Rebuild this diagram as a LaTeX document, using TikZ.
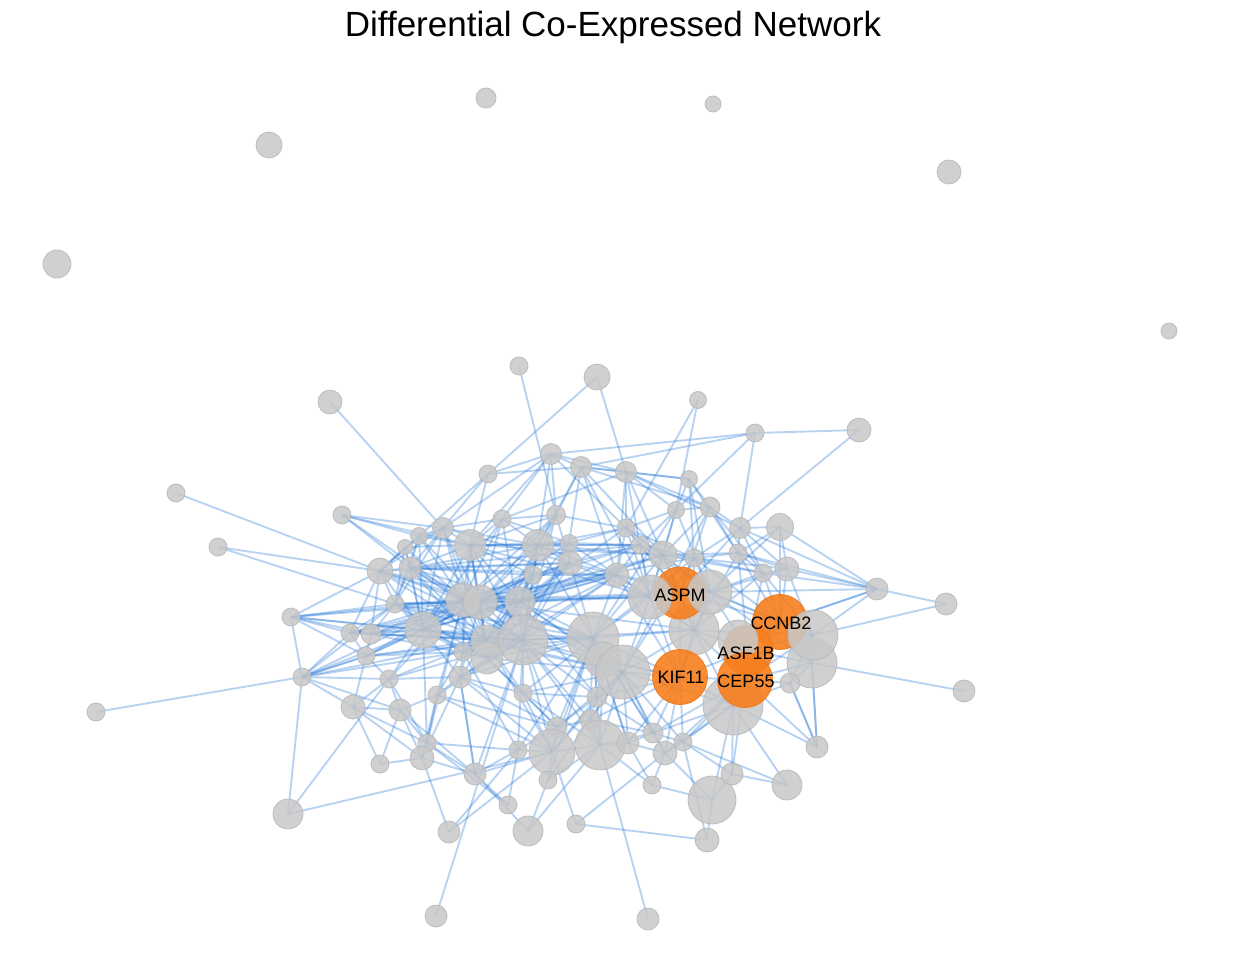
\documentclass[tikz,border=0pt]{standalone}
\usepackage{fontspec}
\setmainfont{Liberation Sans}
\usetikzlibrary{backgrounds}
\definecolor{genegray}{RGB}{200,200,200}
\definecolor{geneline}{RGB}{185,185,185}
\definecolor{huborange}{RGB}{247,127,30}
\definecolor{hubline}{RGB}{240,120,25}
\definecolor{linkblue}{RGB}{40,120,215}
\tikzstyle{gene} = [circle, inner sep=0pt, fill=genegray, draw=geneline, line width=0.8pt,
                    fill opacity=0.86, draw opacity=0.9]
\tikzstyle{hub}  = [circle, inner sep=0pt, fill=huborange, draw=hubline, line width=0.8pt,
                    fill opacity=0.9, minimum size=55pt]
\tikzstyle{link} = [draw=linkblue, draw opacity=0.33, line width=1.9pt]
\tikzstyle{tag}  = [font=\fontsize{18}{20}\selectfont, inner sep=0pt]

\begin{document}
\begin{tikzpicture}[x=1pt, y=-1pt]
  \useasboundingbox (0,0) rectangle (1234,960);

  % Title
  \node[anchor=base, font=\fontsize{35}{40}\selectfont] (title) at (613,37) {Differential Co-Expressed Network};

  % Isolated genes
  \foreach \n/\x/\y/\sz in {i1/486/98/20, i2/713/104/16, i3/269/145/26, i4/949/172/24,
                            i5/57/264/28, i6/1169/331/16}
    \node[gene, minimum size=\sz pt] (\n) at (\x,\y) {};

  % Upper periphery
  \foreach \n/\x/\y/\sz in {a1/519/366/18, a2/597/377/26, a3/698/400/17, a4/755/433/18,
                            a5/859/430/24, a6/330/402/24, a7/176/493/18, a8/218/547/18,
                            a9/342/515/18}
    \node[gene, minimum size=\sz pt] (\n) at (\x,\y) {};

  % Upper band
  \foreach \n/\x/\y/\sz in {b1/488/474/18, b2/551/454/21, b3/581/467/21, b4/626/472/21,
                            b5/689/479/17, b6/710/507/20, b7/740/528/21, b8/780/527/27,
                            b9/676/510/17, b10/556/515/19, b11/502/519/18, b12/443/528/21,
                            b13/419/536/17, b14/405/547/15, b15/470/545/31, b16/538/545/31,
                            b17/569/543/17, b18/626/528/18, b19/640/545/18, b20/663/555/28,
                            b21/694/558/18, b22/738/553/18}
    \node[gene, minimum size=\sz pt] (\n) at (\x,\y) {};

  % Core
  \foreach \n/\x/\y/\sz in {c1/380/571/26, c2/410/568/22, c3/570/563/24, c4/533/575/18,
                            c5/617/575/24, c6/763/573/18, c7/787/569/24, c8/877/589/22,
                            c9/946/604/22, c10/291/617/18, c11/395/604/18, c12/463/600/34,
                            c13/480/602/34, c14/520/602/30, c17/350/633/18, c18/371/634/20,
                            c19/423/630/36, c20/486/640/30, c21/523/640/50, c22/593/638/52,
                            c23/694/630/50, c25/366/656/18, c26/463/652/18, c27/487/658/32,
                            c28/603/660/36, c29/623/672/54, c30/812/663/50, c31/302/677/18,
                            c32/389/679/18, c33/460/677/22, c34/437/695/18, c35/523/693/18,
                            c36/597/697/20, c37/353/707/24, c38/400/710/22, c39/790/683/20,
                            c40/964/691/22, c41/733/705/60, c42/96/712/18}
    \node[gene, minimum size=\sz pt] (\n) at (\x,\y) {};

  % Lower band
  \foreach \n/\x/\y/\sz in {d1/590/720/20, d2/557/727/20, d3/653/733/20, d4/683/742/18,
                            d5/427/743/18, d6/422/758/24, d7/518/750/18, d8/552/752/46,
                            d9/600/745/50, d10/628/743/22, d11/665/753/24, d12/380/764/18,
                            d13/475/774/22, d14/548/780/18, d15/508/805/18, d16/449/832/22,
                            d17/528/831/30, d18/576/824/18, d19/652/785/18, d20/712/800/48,
                            d21/707/840/24, d22/732/774/22, d23/787/785/30, d24/817/747/22,
                            d25/288/814/30, d26/436/916/22, d27/648/919/22}
    \node[gene, minimum size=\sz pt] (\n) at (\x,\y) {};

  % Hub genes (ASPM, CCNB2, ASF1B sit under some grey genes)
  \node[hub, minimum size=52pt] (aspm)  at (680,593) {};
  \node[hub]                    (ccnb2) at (780,622) {};
  \node[hub, minimum size=50pt] (asf1b) at (748,650) {};
  \foreach \n/\x/\y/\sz in {c15/650/597/44, c16/710/592/44, c24/813/635/50, c43/738/640/40}
    \node[gene, minimum size=\sz pt] (\n) at (\x,\y) {};
  \node[hub] (kif11) at (680,677) {};
  \node[hub] (cep55) at (745,680) {};

  % Gene names
  \node[tag] (taspm)  at (680,595) {ASPM};
  \node[tag] (tccnb2) at (781,623) {CCNB2};
  \node[tag] (tasf1b) at (746,653) {ASF1B};
  \node[tag] (tkif11) at (681,677) {KIF11};
  \node[tag] (tcep55) at (746,681) {CEP55};

  % Co-expression links
  \begin{scope}[on background layer]
    % periphery
    \foreach \a/\b in {a6/b12, a7/c1, a8/c1, a8/c11, a9/b12, a9/b15, a9/b13, a9/c2, a9/c12,
                       a1/b10, a2/b1, a2/b4, a3/b18, a3/b9, a4/b3, a4/b2, a4/b9, a4/b7, a4/a5,
                       a5/b7, c42/c31, c9/c8, c9/c24, d26/c21, d27/d9,
                       d25/c32, d25/d8, d12/c37, d16/d6, d16/d8, d16/d7, d17/d13, d17/d9,
                       d17/d14, d18/d8, d18/d21, d18/d11, d15/d5, d15/d13, d19/d9, d19/d20,
                       d21/d20, d21/d4, d23/d22, d23/d4, d23/c41, d24/c41, d24/cep55, d24/c39,
                       d24/c30, d22/c41, d22/d4, d22/cep55}
      \draw[link] (\a.center) -- (\b.center);
    % upper band
    \foreach \a/\b in {b1/b12, b1/b3, b1/b15, b1/c1, b1/b2, b2/b12, b2/b15, b2/b11, b2/b10,
                       b2/b3, b2/b18, b2/b4, b2/c4, b3/b4, b3/b16, b3/b10, b3/b5, b3/b6,
                       b3/c5, b3/b17, b4/b5, b4/b6, b4/b9, b4/b18, b4/b20, b4/c5, b4/b7,
                       b4/b11, b5/b6, b5/b9, b5/b21, b5/c16, b5/b22, b6/b7, b6/b9, b6/b22,
                       b6/c6, b6/b20, b6/aspm, b7/b8, b7/c6, b7/b22, b7/c8, b7/b21, b7/c7,
                       b8/b22, b8/c7, b8/c8, b8/ccnb2, b8/c16, b9/b20, b9/b18, b9/c15,
                       b9/b19, b10/b16, b10/b15, b10/c3, b10/b11, b10/c14, b10/b18,
                       b11/b12, b11/b15, b11/b16, b11/c12, b11/b17, b7/aspm, b9/c16,
                       b18/c16, b4/c15, b3/c15, b3/b20}
      \draw[link] (\a.center) -- (\b.center);
    \foreach \a/\b in {b12/b13, b12/b14, b12/b15, b12/c1, b12/c2, b12/c12, b12/c19, b12/b16,
                       b12/c13, b13/c1, b13/c2, b13/b15, b13/c13, b13/c11, b14/c1, b14/c2,
                       b14/b15, b14/c19, b15/b16, b15/c2, b15/c12, b15/c13, b15/c14, b15/c4,
                       b15/c21, b15/b17, b15/c19, b15/b19, b15/b20, b16/b17, b16/c3, b16/c4,
                       b16/c14, b16/b18, b16/b19, b16/c21, b16/c13, b16/b20, b16/c5,
                       b17/c3, b17/b18, b17/b19, b17/c5, b17/c14, b18/b19, b18/b20, b18/c5,
                       b18/c15, b18/b21, b19/b20, b19/c15, b19/c5, b19/b21, b19/c16,
                       b20/b21, b20/c16, b20/aspm, b20/c15, b20/c23, b20/b22, b20/c6,
                       b21/b22, b21/c6, b21/c16, b21/c7, b21/aspm, b22/c6, b22/c7, b22/c8,
                       b22/ccnb2}
      \draw[link] (\a.center) -- (\b.center);
    % core
    \foreach \a/\b in {c1/c2, c1/c10, c1/c11, c1/c19, c1/c12, c1/c17, c1/c18, c1/c13,
                       c2/c11, c2/c12, c2/c13, c2/c19, c2/c14, c2/c3, c2/c4, c2/b16,
                       c3/c4, c3/c5, c3/c14, c3/c21, c3/c22, c3/c15, c3/c13, c3/b19,
                       c4/c12, c4/c13, c4/c14, c4/c21, c4/c5, c4/c20, c5/c15, c5/c22,
                       c5/c14, c5/c23, c5/aspm, c5/c16, c5/c21, c6/c7, c6/c16, c6/ccnb2,
                       c6/c8, c6/c24, c7/c8, c7/ccnb2, c7/c24, c7/c16, c8/ccnb2, c8/c24,
                       c8/c16, c10/c11, c10/c17, c10/c18, c10/c25, c10/c19, c10/c12,
                       c10/c31, c11/c12, c11/c13, c11/c19, c11/c17, c11/c18, c11/c14,
                       c11/c21, c12/c13, c12/c14, c12/c19, c12/c20, c12/c21, c12/c26,
                       c12/c27, c12/c3, c12/c22, c13/c14, c13/c20, c13/c21, c13/c27,
                       c13/c22, c13/c5, c13/c19, c14/c21, c14/c22, c14/c20, c14/c15,
                       c14/c27, c14/c29}
      \draw[link] (\a.center) -- (\b.center);
    \foreach \a/\b in {c15/c16, c15/c22, c15/c23, c15/c29, c15/aspm, c15/kif11, c16/c23,
                       c16/c24, c16/ccnb2, c16/asf1b, c17/c18, c17/c19, c17/c25, c17/c31,
                       c17/c12, c18/c19, c18/c25, c18/c20, c18/c12, c18/c21, c19/c20,
                       c19/c21, c19/c25, c19/c26, c19/c32, c19/c27, c19/c33, c19/c22,
                       c20/c21, c20/c26, c20/c27, c20/c22, c20/c33, c21/c22, c21/c27,
                       c21/c29, c21/c28, c21/c35, c21/c33, c22/c23, c22/c28, c22/c29,
                       c22/kif11, c22/c36, c22/d1, c23/aspm, c23/kif11, c23/c29, c23/asf1b,
                       c23/c24, c23/cep55, c24/c30, c24/asf1b, c24/c39, c25/c31, c25/c32,
                       c25/c26, c25/c37, c26/c27, c26/c33, c26/c34, c27/c33, c27/c35,
                       c27/c29, c28/c29, c28/c36, c29/kif11, c29/c36, c29/d1, c29/d3,
                       c29/c41, c30/c39, c30/cep55, c30/c40, c30/d24}
      \draw[link] (\a.center) -- (\b.center);
    \foreach \a/\b in {c31/c37, c31/c32, c31/c19, c31/c38, c31/d25, c31/c12, c31/c11,
                       c32/c38, c32/c33, c32/c37, c33/c34, c33/c35, c33/d2, c34/c38,
                       c34/d5, c34/d6, c35/c36, c35/d2, c35/d8, c36/d1, c36/d3, c37/c38,
                       c37/d5, c37/d6, c38/d5, c38/d6, c38/d13, d12/c38, c39/c41, c39/d24,
                       c41/cep55, c41/d4, c41/d20, c41/d3, c19/c5, c12/c15, c13/b20,
                       c2/b19, c1/c3, c11/c22, c17/c14, c25/c21, c19/c29, c26/c22,
                       c20/c29, c32/c21, c33/c22, b15/c15, b12/c3, c12/aspm, c32/d5,
                       c33/d13, c34/d8}
      \draw[link] (\a.center) -- (\b.center);
    % dense left cluster
    \foreach \a/\b in {b13/c12, b13/c19, b14/c12, b14/c11, b12/c11, b12/c20, b15/c20, b15/c27,
                       b15/c26, b16/c12, b16/c20, b16/c27, b16/c22, b11/c13, b11/c21, b11/c19,
                       b10/c21, b10/c13, b10/c12, b17/c21, b17/c13, c2/c20, c2/c21, c2/c27,
                       c1/c14, c1/c21, c1/c20, c11/c20, c11/c27, c11/c26, c17/c13, c17/c20,
                       c18/c13, c18/c14, c18/c27, c25/c12, c25/c13, c25/c20, c19/c14, c26/c21,
                       c26/c14, c27/c22, c33/c21, c33/c13, c34/c21, c34/c12, c32/c12, c32/c20,
                       c35/c22, c35/c20, c36/c21, c36/c14, c28/c14, c28/c13, c3/c20, c3/c27,
                       c4/c19, c4/c27, c5/c12, c5/c20, c5/c27, b19/c12, b19/c14, b18/c14,
                       b20/c14, b20/c22, b21/c22, b21/c29, b9/c22, b6/c29, c10/c13, c10/c21,
                       c31/c20, c31/c25, c31/c26, c19/b20, c12/b21, c2/c5, c11/c15, c13/c23,
                       c21/c23, c14/aspm}
      \draw[link] (\a.center) -- (\b.center);
    % lower band
    \foreach \a/\b in {d1/d2, d1/d9, d1/d3, d2/d8, d2/d7, d3/d4, d3/d10, d3/d11, d3/kif11,
                       d4/d11, d5/d6, d5/d13, d5/d7, d6/d13, d6/d12, d7/d8, d7/d13, d7/d15,
                       d8/d9, d8/d14, d9/d10, d9/d14, d10/d11, d10/d19, d11/d20, d20/d22,
                       d3/cep55, d2/c21, d2/c22, d7/c21, d8/c21, d8/c22, d9/c22, d9/c29,
                       d1/c21, d13/c33, d13/c21, d6/c33, d5/c19, d5/c12, d14/c22, d10/c29,
                       d11/c29, d3/c22, d8/c29, d9/c21, d2/c29, d7/c22, d14/c29, d10/c22,
                       d11/kif11, d4/kif11, d4/c29, d9/d3, d8/c36, d2/c36, c35/d9, c35/c29,
                       c36/kif11, d10/kif11, d19/d11, d13/d8, c33/d8, c34/d2, c27/d2,
                       c26/d7, c20/d8, c28/d9, c28/kif11, c22/d3, c22/d10}
      \draw[link] (\a.center) -- (\b.center);
    % hub genes
    \foreach \a/\b in {aspm/kif11, ccnb2/asf1b, ccnb2/cep55, asf1b/cep55, kif11/cep55,
                       kif11/asf1b, aspm/ccnb2, aspm/c16, kif11/c41, ccnb2/c24, ccnb2/c30,
                       asf1b/c30, kif11/c28, aspm/b19, aspm/b18, ccnb2/c8, cep55/c39,
                       c23/b21, c23/b22, c23/c6, asf1b/b22, cep55/c24, kif11/c16, kif11/c5,
                       kif11/d1, cep55/d4, cep55/d11, asf1b/c6, ccnb2/b21, c30/c16,
                       c41/c23, c41/d11}
      \draw[link] (\a.center) -- (\b.center);
  \end{scope}
\end{tikzpicture}
\end{document}
